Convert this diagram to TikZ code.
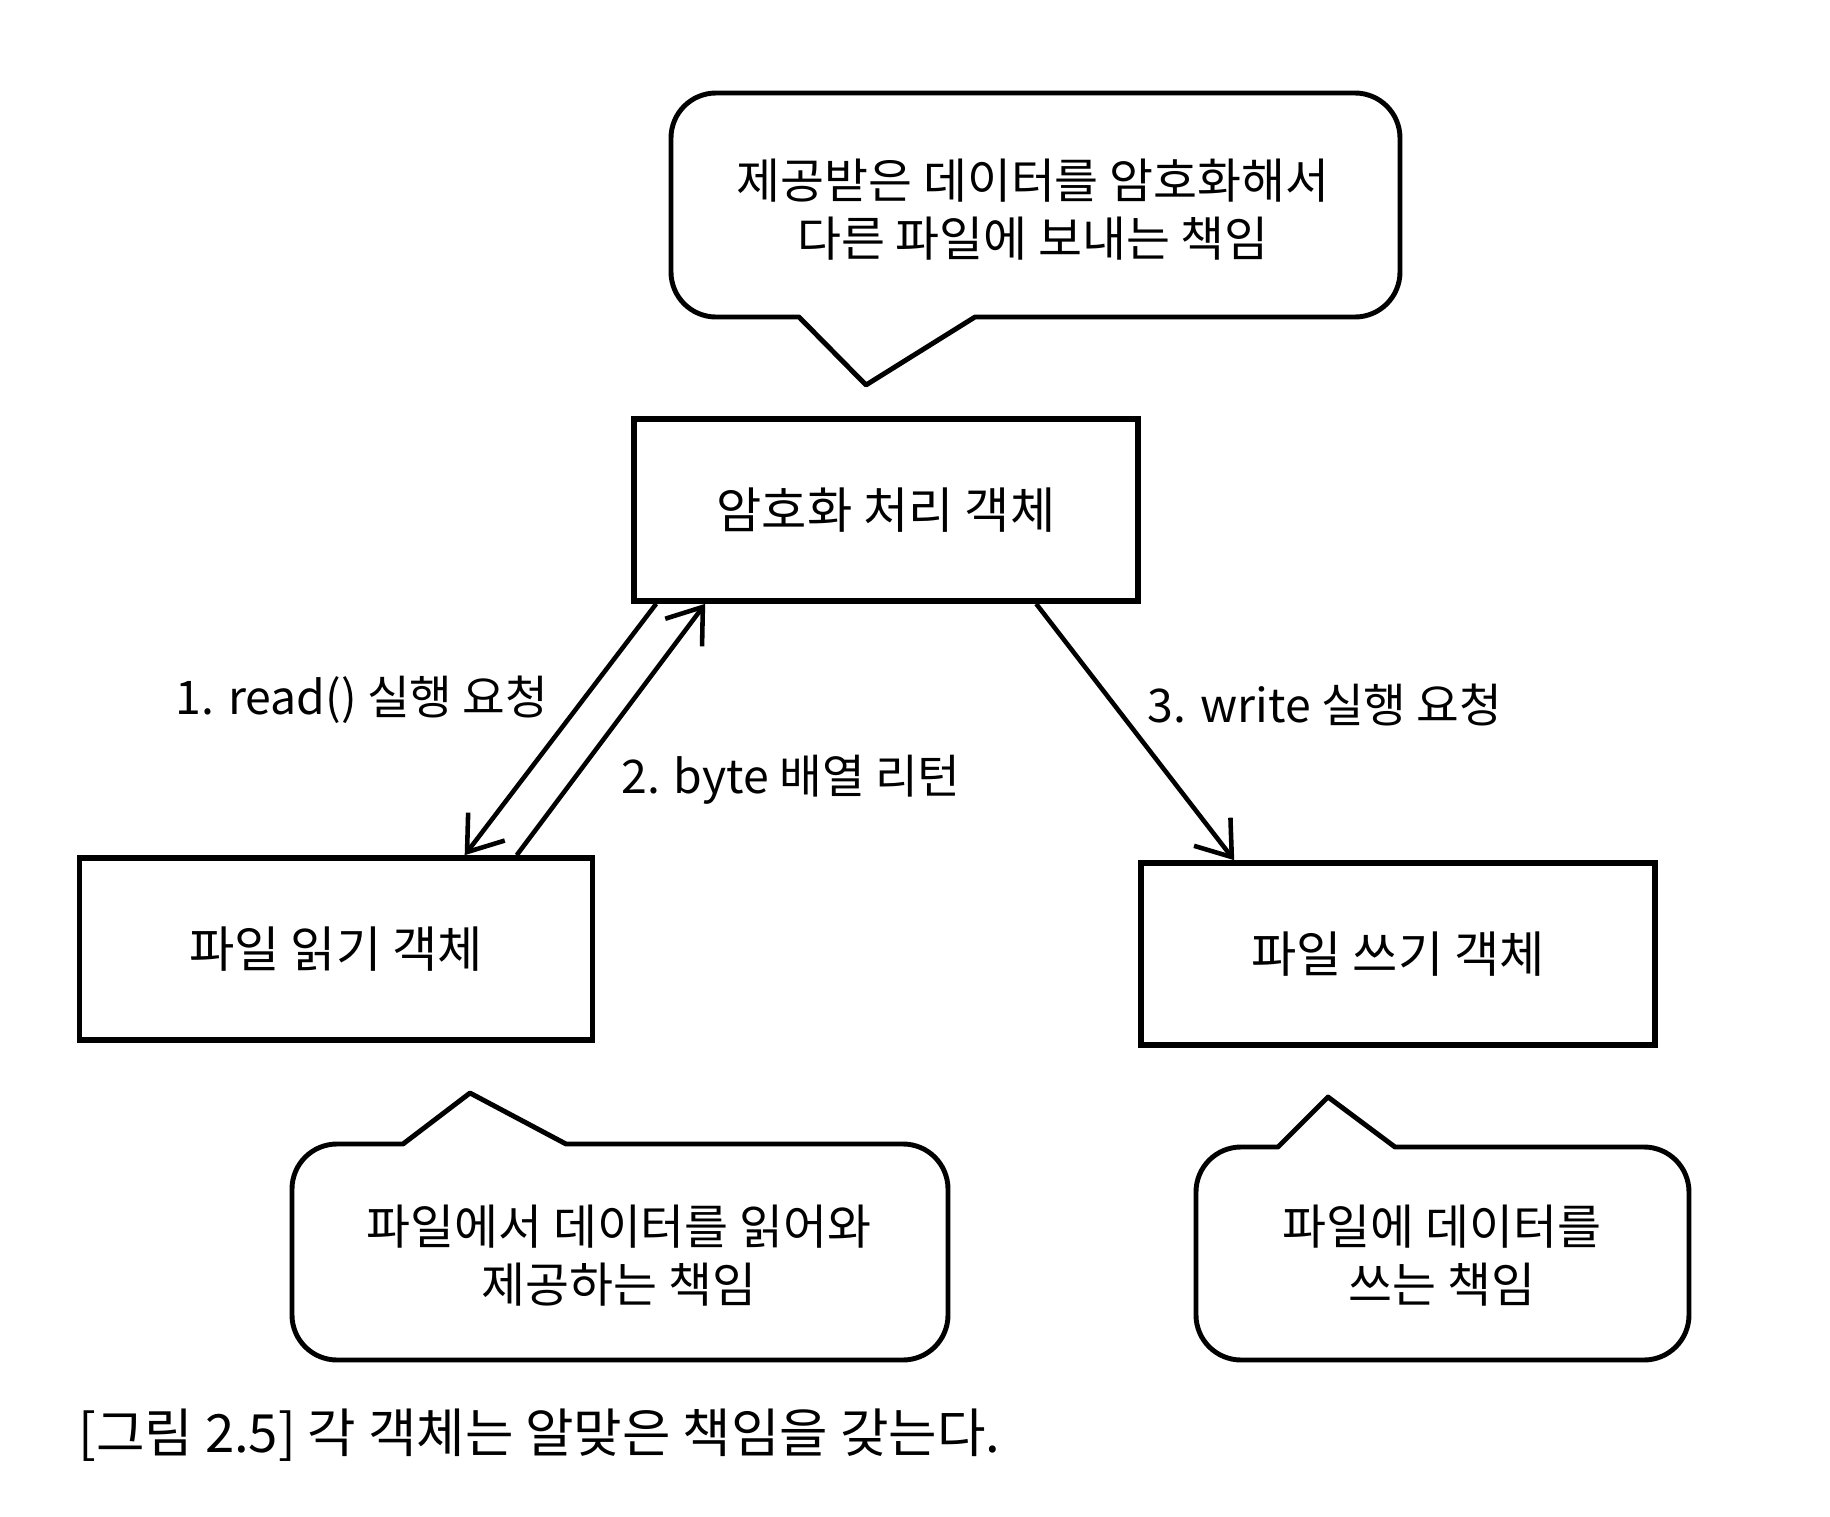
\documentclass[tikz,border=0pt]{standalone}
\usepackage{fontspec}
\setmainfont{Noto Sans CJK KR}
\usetikzlibrary{arrows.meta,calc}

\begin{document}
\begin{tikzpicture}[x=0.1mm, y=-0.1mm,
  obj/.style={draw, line width=1.6pt, minimum width=51mm, minimum height=18.2mm, font=\fontsize{14}{17}\selectfont},
  say/.style={align=center, font=\fontsize{13.6}{16.5}\selectfont},
  msg/.style={font=\fontsize{13.2}{16}\selectfont},
  bubble/.style={line width=1.4pt, line join=round},
  call/.style={line width=1.3pt, -{Straight Barb[length=3.2mm, width=4.6mm]}}]
  \useasboundingbox (0,0) rectangle (1830,1517);

  \node[obj, minimum width=50.4mm] (enc) at (886,510) {암호화 처리 객체};
  \node[obj, minimum width=51.3mm] (rd) at (336,949) {파일 읽기 객체};
  \node[obj, minimum width=51.4mm] (wr) at (1398,954) {파일 쓰기 객체};

  \draw[bubble] (866,385) -- (799,317) [rounded corners=4.5mm] -- (671,317) -- (671,93) -- (1400,93) -- (1400,317) [sharp corners] -- (975,317) -- cycle;
  \node[say] (encsay) at (1033,210) {제공받은 데이터를 암호화해서\\다른 파일에 보내는 책임};

  \draw[bubble] (470,1093) -- (566,1144) [rounded corners=4.5mm] -- (948,1144) -- (948,1360) -- (292,1360) -- (292,1144) [sharp corners] -- (403,1144) -- cycle;
  \node[say] (rdsay) at (619,1256) {파일에서 데이터를 읽어와\\제공하는 책임};

  \draw[bubble] (1328,1097) -- (1395,1147) [rounded corners=4.5mm] -- (1689,1147) -- (1689,1360) -- (1196,1360) -- (1196,1147) [sharp corners] -- (1278,1147) -- cycle;
  \node[say] (wrsay) at (1442,1256) {파일에 데이터를\\쓰는 책임};

  \draw[call] ($(enc.south west)+(25,0)$) -- ($(rd.north west)+(388,0)$);
  \draw[call] ($(rd.north west)+(440,0)$) -- ($(enc.south west)+(74,0)$);
  \draw[call] ($(enc.south west)+(405,0)$) -- ($(wr.north west)+(96,0)$);

  \node[msg] (m1) at (362,700) {1. read() 실행 요청};
  \node[msg] (m2) at (791,780) {2. byte 배열 리턴};
  \node[msg] (m3) at (1325,705) {3. write 실행 요청};

  \node[msg, anchor=west, font=\fontsize{15}{18}\selectfont] (cap) at (66,1435) {[그림 2.5] 각 객체는 알맞은 책임을 갖는다.};
\end{tikzpicture}
\end{document}
